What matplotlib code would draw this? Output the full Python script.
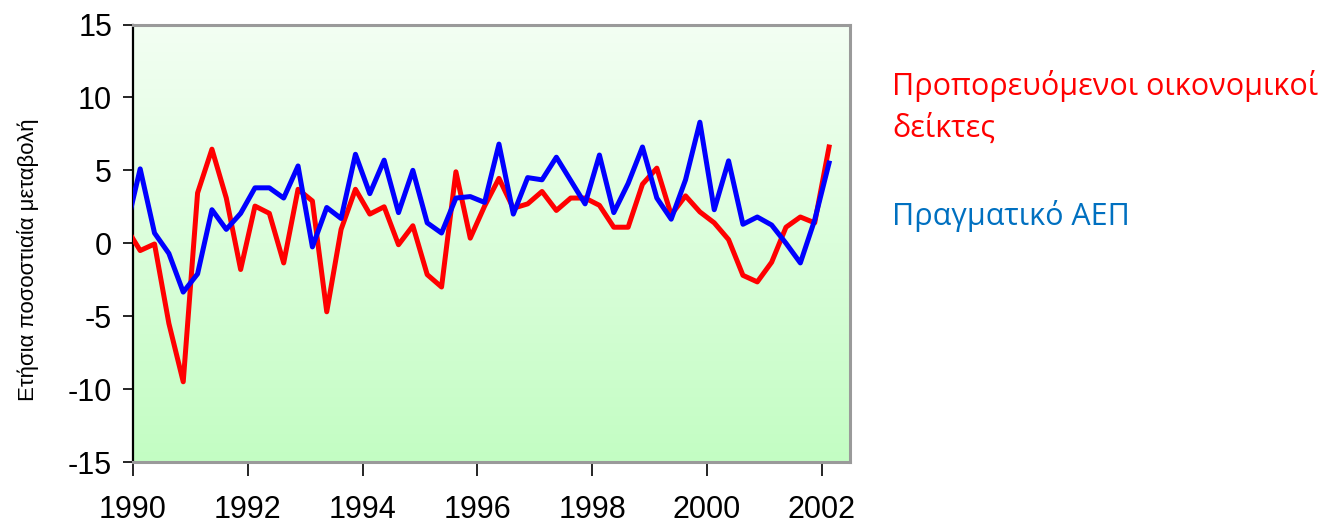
import numpy as np
import pandas as pd
import matplotlib
matplotlib.use("Agg")
import matplotlib.pyplot as plt
from matplotlib.colors import LinearSegmentedColormap

# ---- data (quarterly, annual % change) ----
periods = pd.period_range("1989Q4", "2002Q1", freq="Q")
leading = [1.1, -0.5, -0.05, -5.5, -9.5, 3.45, 6.45, 3.1, -1.8, 2.55,
           2.05, -1.35, 3.7, 2.9, -4.7, 0.95, 3.7, 2.0, 2.5, -0.1,
           1.2, -2.15, -3.0, 4.9, 0.35, 2.55, 4.45, 2.4, 2.7, 3.55,
           2.25, 3.1, 3.1, 2.6, 1.1, 1.1, 4.05, 5.15, 1.95, 3.25,
           2.15, 1.4, 0.25, -2.2, -2.65, -1.3, 1.1, 1.8, 1.4, 6.6]
gdp = [0.9, 5.1, 0.7, -0.7, -3.35, -2.1, 2.3, 0.95, 2.05, 3.8,
       3.8, 3.1, 5.3, -0.25, 2.45, 1.7, 6.1, 3.4, 5.7, 2.1,
       5.0, 1.4, 0.7, 3.1, 3.2, 2.8, 6.8, 2.0, 4.5, 4.35,
       5.9, 4.3, 2.7, 6.05, 2.1, 4.1, 6.6, 3.1, 1.65, 4.35,
       8.3, 2.3, 5.65, 1.3, 1.8, 1.25, 0.0, -1.35, 1.6, 5.5]
year_ticks = [1990, 1992, 1994, 1996, 1998, 2000, 2002]
y_ticks = [-15, -10, -5, 0, 5, 10, 15]
label_leading_1 = "Προπορευόμενοι οικονομικοί"
label_leading_2 = "δείκτες"
label_gdp = "Πραγματικό ΑΕΠ"
ylabel = "Ετήσια ποσοστιαία μεταβολή"

# decimal year at mid-quarter
t = np.array([p.year + (p.quarter - 1) * 0.25 + 0.125 for p in periods])

W, H = 1328, 528
fig = plt.figure(figsize=(W / 100, H / 100), dpi=100)
ax = fig.add_axes([133 / W, 1 - 462 / H, (850 - 133) / W, (462 - 24.5) / H])

xlim = (1990, 2002.49)
ylim = (-15, 15)
cmap = LinearSegmentedColormap.from_list("g", ["#c3fdc3", "#f3fff3"])
grad = np.linspace(0, 1, 256).reshape(-1, 1)
ax.imshow(grad, cmap=cmap, origin="lower", aspect="auto",
          extent=[xlim[0], xlim[1], ylim[0], ylim[1]], zorder=0)

ax.plot(t, leading, color="#ff0000", lw=3.6, zorder=3, solid_joinstyle="round")
ax.plot(t, gdp, color="#0000ff", lw=3.6, zorder=4, solid_joinstyle="round")

ax.set_xlim(*xlim)
ax.set_ylim(*ylim)
ax.set_xticks(year_ticks)
ax.set_xticklabels([str(y) for y in year_ticks])
ax.set_yticks(y_ticks)
ax.set_yticklabels([str(v) for v in y_ticks])

for lab in ax.get_xticklabels() + ax.get_yticklabels():
    lab.set_fontfamily("Liberation Sans")
    lab.set_fontsize(22)
ax.tick_params(axis="x", direction="out", length=10, width=1.2, pad=14, colors="black")
ax.tick_params(axis="y", direction="out", length=7, width=1.2, pad=8, colors="black")

ax.spines["left"].set_color("black")
ax.spines["left"].set_linewidth(1.6)
for s in ["top", "right", "bottom"]:
    ax.spines[s].set_color("#9a9a9a")
    ax.spines[s].set_linewidth(2.2)

fig.text(28 / W, 1 - 260 / H, ylabel, rotation=90, ha="center", va="center",
         fontsize=16, family="Liberation Sans", color="black")

fig.text(892 / W, 1 - 95 / H, label_leading_1, ha="left", va="baseline",
         fontsize=22, family="Open Sans", color="#ff0000")
fig.text(892 / W, 1 - 137 / H, label_leading_2, ha="left", va="baseline",
         fontsize=22, family="Open Sans", color="#ff0000")
fig.text(892 / W, 1 - 225 / H, label_gdp, ha="left", va="baseline",
         fontsize=22, family="Open Sans", color="#0070c0")

fig.savefig("out.png", dpi=100, facecolor="white")
